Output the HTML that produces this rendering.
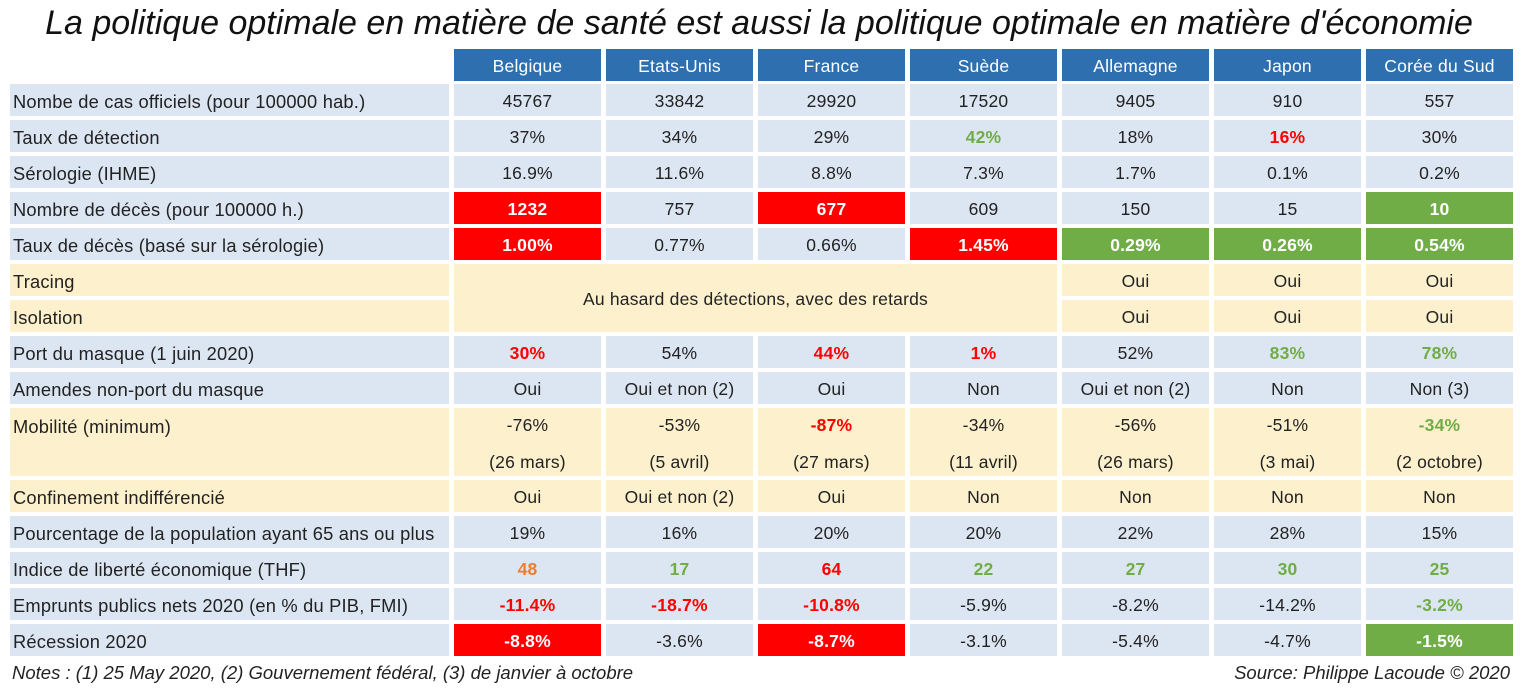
<!DOCTYPE html>
<html><head><meta charset="utf-8">
<style>
body{margin:0;width:1528px;height:688px;background:#fff;position:relative;overflow:hidden;font-family:"Liberation Sans",sans-serif;color:#222}
.c{position:absolute;box-sizing:border-box;display:flex;align-items:center;justify-content:center;font-size:17.5px;letter-spacing:0.2px;padding-top:3px}
.l{justify-content:flex-start;padding-left:3px;font-size:18.3px}
.b{background:#dce6f2}.y{background:#fdf0cc}.h{background:#2e6fb0;color:#fff}
.R{background:#ff0000;color:#fff;font-weight:bold}.G{background:#70ad47;color:#fff;font-weight:bold}
.r{color:#ff0000;font-weight:bold}.g{color:#70ad47;font-weight:bold}.o{color:#ed7d31;font-weight:bold}
#title{position:absolute;left:0;width:1518px;top:4px;text-align:center;font-style:italic;font-size:34px;color:#111;white-space:nowrap}
.note{position:absolute;top:662px;font-style:italic;font-size:18.5px;color:#222;white-space:nowrap}
</style></head><body>
<div id="title">La politique optimale en matière de santé est aussi la politique optimale en matière d'économie</div>
<div id="t"></div>
<div class="note" style="left:12px">Notes : (1) 25 May 2020, (2) Gouvernement fédéral, (3) de janvier à octobre</div>
<div class="note" style="right:18px">Source: Philippe Lacoude © 2020</div>
<script>
const countries=["Belgique","Etats-Unis","France","Suède","Allemagne","Japon","Corée du Sud"];
const rows=[
["Nombe de cas officiels (pour 100000 hab.)","b",["45767","33842","29920","17520","9405","910","557"]],
["Taux de détection","b",["37%","34%","29%","42%|g","18%","16%|r","30%"]],
["Sérologie (IHME)","b",["16.9%","11.6%","8.8%","7.3%","1.7%","0.1%","0.2%"]],
["Nombre de décès (pour 100000 h.)","b",["1232|R","757","677|R","609","150","15","10|G"]],
["Taux de décès (basé sur la sérologie)","b",["1.00%|R","0.77%","0.66%","1.45%|R","0.29%|G","0.26%|G","0.54%|G"]],
["Tracing","y",["","","","","Oui","Oui","Oui"]],
["Isolation","y",["","","","","Oui","Oui","Oui"]],
["Port du masque (1 juin 2020)","b",["30%|r","54%","44%|r","1%|r","52%","83%|g","78%|g"]],
["Amendes non-port du masque","b",["Oui","Oui et non (2)","Oui","Non","Oui et non (2)","Non","Non (3)"]],
["Mobilité (minimum)","y",["-76%","-53%","-87%|r","-34%","-56%","-51%","-34%|g"]],
["Confinement indifférencié","y",["Oui","Oui et non (2)","Oui","Non","Non","Non","Non"]],
["Pourcentage de la population ayant 65 ans ou plus","b",["19%","16%","20%","20%","22%","28%","15%"]],
["Indice de liberté économique (THF)","b",["48|o","17|g","64|r","22|g","27|g","30|g","25|g"]],
["Emprunts publics nets 2020 (en % du PIB, FMI)","b",["-11.4%|r","-18.7%|r","-10.8%|r","-5.9%","-8.2%","-14.2%","-3.2%|g"]],
["Récession 2020","b",["-8.8%|R","-3.6%","-8.7%|R","-3.1%","-5.4%","-4.7%","-1.5%|G"]]
];
const mobDates=["(26 mars)","(5 avril)","(27 mars)","(11 avril)","(26 mars)","(3 mai)","(2 octobre)"];
const T=document.getElementById('t');
function cell(x,y,w,h,cls,html,name){const d=document.createElement('div');d.className='c '+cls;
d.style.cssText=`left:${x}px;top:${y}px;width:${w}px;height:${h}px`;d.innerHTML=html;


T.appendChild(d);return d;}
const cx=i=>454+i*152, CW=147;
countries.forEach((c,i)=>cell(cx(i),49,CW,32,'h',c,'header-'+i));
let y=84;
rows.forEach((r,ri)=>{
  const h=ri===9?68:32;
  const lc=cell(10,y,439,h,'l '+r[1],r[0],'row-label-'+ri);
  if(ri===9){lc.style.alignItems='flex-start';lc.style.paddingTop='8px';}
  r[2].forEach((v,i)=>{
    if((ri===5||ri===6)&&i<4)return;
    const [t,s]=v.split('|');
    if(ri===9){
      cell(cx(i),y,CW,h,r[1],`<div style="text-align:center;line-height:37px"><span class="${s||''}">${t}</span><br>${mobDates[i]}</div>`,'cell-'+ri+'-'+i);
    }else{
      const cls=(s==='R'||s==='G')?s:r[1];
      cell(cx(i),y,CW,h,cls,(s&&s!=='R'&&s!=='G')?`<span class="${s}">${t}</span>`:t,'cell-'+ri+'-'+i);
    }
  });
  if(ri===5)cell(cx(0),y,cx(3)+CW-cx(0),68,'y','Au hasard des détections, avec des retards','merged-tracing-cell');
  y+=h+4;
});
</script>
</body></html>
